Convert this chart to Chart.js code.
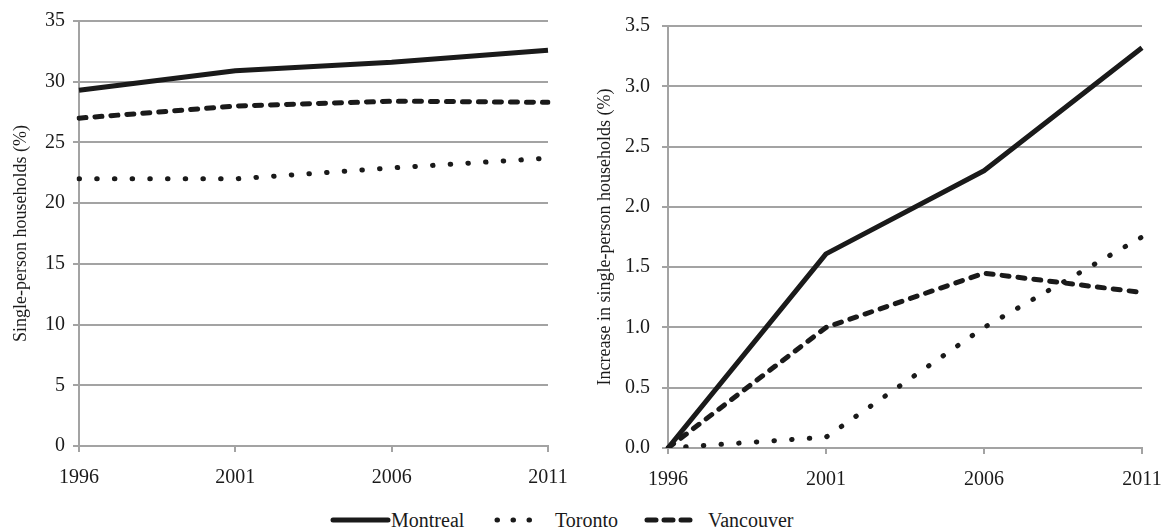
<!DOCTYPE html>
<html>
<head>
<meta charset="utf-8">
<script src="https://cdn.jsdelivr.net/npm/chart.js@4"></script>
<style>
  body { margin: 0; background: #fff; }
  #wrap { position: relative; width: 1161px; height: 528px; overflow: hidden; font-family: "Liberation Serif", serif; }
  .panel { position: absolute; top: 0; height: 495px; }
  .item { position: absolute; top: 508px; height: 24px; display: flex; align-items: center; font-size: 20px; color: #1a1a1a; white-space: nowrap; }
  .item canvas { display: block; }
</style>
</head>
<body>
<div id="wrap">
  <div class="panel" style="left:0;width:580px"><canvas id="shareChart"></canvas></div>
  <div class="panel" style="left:580px;width:581px"><canvas id="increaseChart"></canvas></div>
  <div class="item" style="left:330px"><canvas id="lgMontreal" width="61" height="24"></canvas><span>Montreal</span></div>
  <div class="item" style="left:492px"><canvas id="lgToronto" width="42" height="24"></canvas><span style="margin-left:21px">Toronto</span></div>
  <div class="item" style="left:644px"><canvas id="lgVancouver" width="54" height="24"></canvas><span style="margin-left:10px">Vancouver</span></div>
</div>
<script>
// data //
const years = ['1996', '2001', '2006', '2011'];

const montrealShare = [29.3, 30.9, 31.6, 32.6];
const torontoShare = [22.0, 22.0, 22.9, 23.7];
const vancouverShare = [27.0, 28.0, 28.4, 28.3];

const montrealIncrease = [0, 1.61, 2.3, 3.32];
const torontoIncrease = [0, 0.09, 1.0, 1.75];
const vancouverIncrease = [0, 1.0, 1.45, 1.29];

const cityNames = ['Montreal', 'Toronto', 'Vancouver'];

// styles //
const ink = '#1a1a1a';
const gridGrey = '#a3a3a3';
const lineStyles = [
  { borderDash: [], borderCapStyle: 'butt' },
  { borderDash: [0.5, 17.2], borderCapStyle: 'round' },
  { borderDash: [7, 9], borderCapStyle: 'round' }
];

Chart.defaults.font = { family: '"Liberation Serif", serif', size: 20 };
Chart.defaults.color = ink;

function makeDatasets(seriesList) {
  return seriesList.map((values, i) => ({
    label: cityNames[i],
    data: values,
    borderColor: ink,
    backgroundColor: ink,
    borderWidth: 5,
    borderDash: lineStyles[i].borderDash,
    borderCapStyle: lineStyles[i].borderCapStyle,
    borderJoinStyle: 'round',
    pointRadius: 0,
    tension: 0,
    fill: false
  }));
}

function makeChart(id, seriesList, opts) {
  const ctx = document.getElementById(id).getContext('2d');
  return new Chart(ctx, {
    type: 'line',
    data: { labels: years, datasets: makeDatasets(seriesList) },
    options: {
      responsive: true,
      maintainAspectRatio: false,
      animation: false,
      layout: { padding: { top: opts.top, right: opts.right, left: 0, bottom: 0 } },
      plugins: { legend: { display: false }, tooltip: { enabled: false } },
      scales: {
        x: {
          offset: false,
          grid: { drawOnChartArea: false, drawTicks: true, tickLength: 6, color: gridGrey, lineWidth: 2 },
          border: { color: gridGrey, width: 2 },
          ticks: { padding: 14, maxRotation: 0, autoSkip: false },
          afterFit: scale => {
            scale.height = opts.xHeight;
            scale.paddingLeft = 0;
            scale.paddingRight = 0;
          }
        },
        y: {
          min: 0,
          max: opts.max,
          grid: { color: gridGrey, lineWidth: 2, tickLength: 6 },
          border: { color: gridGrey, width: 2 },
          ticks: { stepSize: opts.step, padding: opts.tickPad, callback: opts.fmt },
          title: {
            display: true,
            text: opts.title,
            font: { size: 18 },
            padding: { top: opts.titlePad, bottom: 0 }
          },
          afterFit: scale => { scale.width = opts.yWidth; }
        }
      }
    }
  });
}

makeChart('shareChart', [montrealShare, torontoShare, vancouverShare], {
  top: 21, right: 32, xHeight: 49, yWidth: 79, max: 35, step: 5,
  tickPad: 8, titlePad: 10,
  fmt: v => String(v),
  title: 'Single-person households (%)'
});

makeChart('increaseChart', [montrealIncrease, torontoIncrease, vancouverIncrease], {
  top: 26, right: 19, xHeight: 47, yWidth: 88, max: 3.5, step: 0.5,
  tickPad: 12, titlePad: 14,
  fmt: v => v.toFixed(1),
  title: 'Increase in single-person households (%)'
});

// legend samples //
const legendDash = [[], [0.5, 15.5], [9, 8]];
['lgMontreal', 'lgToronto', 'lgVancouver'].forEach((id, i) => {
  const c = document.getElementById(id);
  const g = c.getContext('2d');
  g.strokeStyle = ink;
  g.lineWidth = 5;
  g.lineCap = 'round';
  g.setLineDash(legendDash[i]);
  g.beginPath();
  if (i === 1) { g.moveTo(5, 12); g.lineTo(c.width, 12); }
  else { g.moveTo(3, 12); g.lineTo(c.width - 3, 12); }
  g.stroke();
});
</script>
</body>
</html>
